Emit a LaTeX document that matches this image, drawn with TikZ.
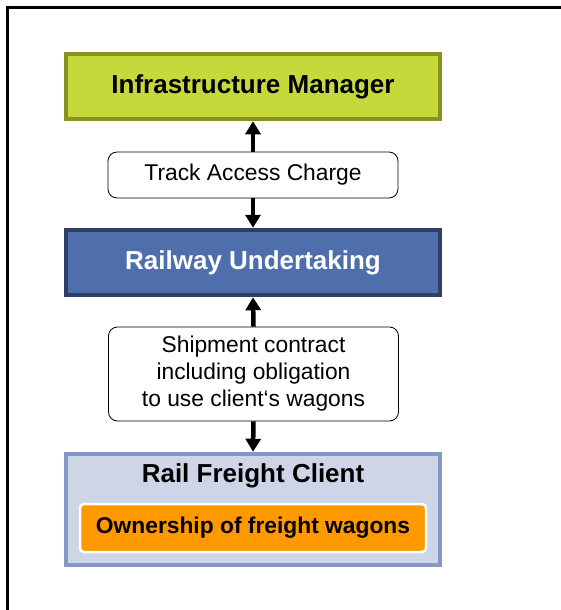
\documentclass[tikz,border=0pt]{standalone}
\usepackage{fontspec}
\setmainfont{Liberation Sans}
\usepackage{tikz}
\usetikzlibrary{arrows.meta}
\definecolor{imfill}{HTML}{C5DA3A}
\definecolor{imline}{HTML}{87921F}
\definecolor{rufill}{HTML}{4F6FAC}
\definecolor{ruline}{HTML}{2F3F66}
\definecolor{rcfill}{HTML}{CDD5E7}
\definecolor{rcline}{HTML}{8399C4}
\definecolor{owfill}{HTML}{FF9900}
\tikzset{
  party/.style={draw, line width=4.5pt, minimum width=374pt, inner sep=0pt, font=\fontsize{26}{31}\selectfont\bfseries},
  deal/.style={draw, line width=0.8pt, rounded corners=9pt, minimum width=290pt, inner sep=0pt, align=center, font=\fontsize{22.8}{27}\selectfont},
  flow/.style={line width=4.5pt, -{Triangle[width=15pt,length=13pt]}}
}
\begin{document}
\begin{tikzpicture}[x=1pt, y=-1pt]
	  \useasboundingbox (0,0) rectangle (560,610);
	  \draw [line width=3pt] (7.5,620) -- (7.5,7.5) -- (570,7.5);
	  \node [party, fill=imfill, draw=imline, minimum height=65pt] (im) at (253,86.5) {Infrastructure Manager};
	  \node [party, fill=rufill, draw=ruline, text=white, minimum height=65pt] (ru) at (253,262.5) {Railway Undertaking};
	  \node [party, fill=rcfill, draw=rcline, minimum height=111pt] (rfc) at (253,509.5) {};
	  \node [font=\fontsize{26}{31}\selectfont\bfseries] (rfct) at (253,476) {Rail Freight Client};
	  \node [draw=white, line width=2.5pt, fill=owfill, rounded corners=4pt, minimum width=346pt, minimum height=48pt, inner sep=0pt, font=\fontsize{22.8}{27}\selectfont\bfseries] (own) at (253,528) {Ownership of freight wagons};
	  % Contracts
	  \node [deal, minimum height=46pt] (tac) at (253,175) {Track Access Charge};
	  \node [deal, minimum height=94pt] (ship) at (253.5,374) {Shipment contract\\including obligation\\to use client\char"2018s wagons};
	  % Arrows
	  \draw [flow] (tac.north) -- (im.south);
	  \draw [flow] (tac.south) -- (ru.north);
	  \draw [flow] (ship.north) -- (ru.south);
	  \draw [flow] (ship.south) -- (rfc.north);
	 \end{tikzpicture}
\end{document}
